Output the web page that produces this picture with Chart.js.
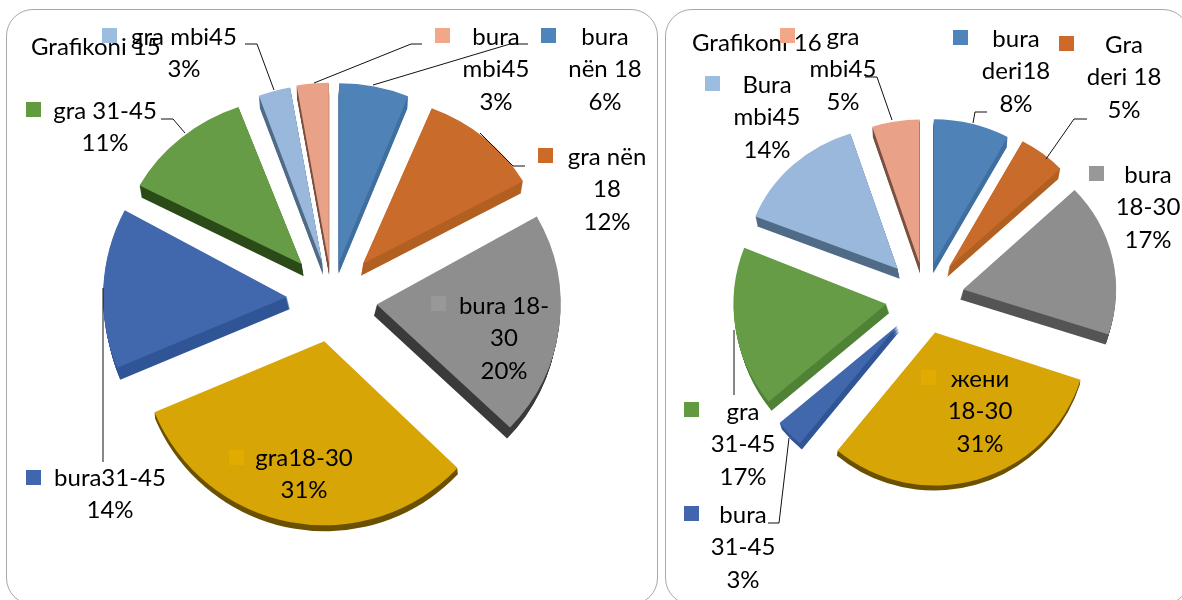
<!DOCTYPE html>
<html>
<head>
<meta charset="utf-8">
<title>Grafikoni 15 / 16</title>
<script src="https://cdn.jsdelivr.net/npm/chart.js@4"></script>
<style>
    html, body { margin: 0; padding: 0; width: 1182px; height: 600px; overflow: hidden; background: #fff; }
    .panel { position: absolute; top: 9px; height: 596px; box-sizing: border-box; border: 1px solid #a8a8a8; border-radius: 27px; }
    canvas { position: absolute; top: 0; }
</style>
</head>
<body>
<div class="panel" style="left:6px; width:652px"></div>
<div class="panel" style="left:665px; width:525px"></div>
<canvas id="chartA" width="664" height="600" style="left:0"></canvas>
<canvas id="chartB" width="520" height="600" style="left:662px"></canvas>
<script>
// Chart data
const titleA = 'Grafikoni 15';
const categoriesA = ['bura\nnën 18', 'gra nën\n18', 'bura 18-\n30', 'gra18-30', 'bura31-45', 'gra 31-45', 'gra mbi45', 'bura\nmbi45'];
const percentA = [6, 12, 20, 31, 14, 11, 3, 3];
// wedge sizes as drawn: the wedges do not follow the printed numbers exactly (gra nën 18 is narrower than 12%)
const wedgeA = [6.1, 10.7, 20.3, 31.6, 14.1, 11.6, 2.8, 2.8];

const titleB = 'Grafikoni 16';
const categoriesB = ['bura\nderi18', 'Gra\nderi 18', 'bura\n18-30', 'жени\n18-30', 'bura\n31-45', 'gra\n31-45', 'Bura\nmbi45', 'gra\nmbi45'];
const percentB = [8, 5, 17, 31, 3, 17, 14, 5];

// Styles
const topColors = ['#4f82b6', '#c96b2b', '#8e8e8e', '#d8a507', '#4168ac', '#669c45', '#99b8dc', '#e9a287'];
const swatchColors = ['#4e84ba', '#ce6a29', '#989898', '#e2ab00', '#4066ae', '#63993f', '#9cbde0', '#f1a78a'];
const sideColorsA = ['#3f6f9f', '#b25f22', '#3a3a3a', '#6b5000', '#2f5596', '#2a4a18', '#4f6b88', '#7a5040'];
const sideColorsB = ['#3f6f9f', '#b25f22', '#545454', '#6b5000', '#2f5596', '#4f8235', '#4f6b88', '#7a5040'];
const FONT = '24px Lato, "Noto Sans", sans-serif';
const LINE_HEIGHT = 32.5;

// Where the text sits on each canvas: text centre x, first line y, swatch x and y
const spotsA = [
    [605, 37, 541, 28], [607, 157, 538, 148], [504, 306, 431, 296], [304, 458, 229, 450],
    [110, 478, 26, 470], [105, 111, 26, 102], [184, 37, 102, 28], [496, 37, 435, 28]
];
const spotsB = [
    [354, 39, 291, 30], [462, 45, 397, 36], [486, 175, 427, 166], [318, 379, 259, 370],
    [81, 515, 22, 506], [81, 412, 22, 402], [105, 85, 43, 76], [181, 37, 118, 28]
];
const leadersA = [
    [[528, 44], [510, 44], [373, 85]],
    [[525, 166], [513, 166], [480, 133]],
    [[103, 462], [103, 288]],
    [[161, 119], [173, 119], [185, 133]],
    [[245, 44], [257, 44], [274, 90]],
    [[422, 44], [411, 44], [314, 83]]
];
const leadersB = [
    [[325, 112], [313, 112], [311, 123]],
    [[425, 119], [412, 119], [384, 159]],
    [[106, 523], [117, 523], [127, 438]],
    [[72, 330], [72, 395]],
    [[203, 77], [215, 77], [230, 120]]
];

// Pull the wedges apart. The arc's own offset option also grows its radius, so move the elements instead.
// squash flattens the far wedges in y, as the picture's perspective does.
const sliceExplode = {
    id: 'sliceExplode',
    afterDatasetsUpdate(chart, args, opts) {
        chart.getDatasetMeta(0).data.forEach((arc, i) => {
            const mid = (arc.startAngle + arc.endAngle) / 2;
            arc.x += Math.cos(mid) * opts.pull[i];
            arc.y += Math.sin(mid) * opts.pull[i];
            arc.squash = opts.squash[i];
            if (arc.draw === Object.getPrototypeOf(arc).draw) {
                const drawArc = arc.draw;
                arc.draw = function(ctx, area) {
                    ctx.save();
                    ctx.translate(this.x, this.y);
                    ctx.scale(1, this.squash);
                    ctx.translate(-this.x, -this.y);
                    drawArc.call(this, ctx, area);
                    ctx.restore();
                };
            }
        });
    }
};

// 3D side of every wedge, painted under the library's own arcs
const sliceDepth = {
    id: 'sliceDepth',
    beforeDatasetsDraw(chart, args, opts) {
        const ctx = chart.ctx;
        chart.getDatasetMeta(0).data.forEach((arc, i) => {
            const mid = (arc.startAngle + arc.endAngle) / 2;
            const depth = opts.depth - opts.drop * Math.max(0, Math.sin(mid));
            const lean = -Math.cos(mid) * opts.lean;
            ctx.fillStyle = opts.colors[i];
            for (let s = 1; s <= depth; s++) {
                ctx.save();
                ctx.translate(arc.x + lean * s / depth, arc.y + s);
                ctx.scale(1, arc.squash);
                ctx.beginPath();
                ctx.moveTo(0, 0);
                ctx.arc(0, 0, arc.outerRadius, arc.startAngle, arc.endAngle);
                ctx.closePath();
                ctx.fill();
                ctx.restore();
            }
        });
    }
};

// Labels, swatches and leader lines
const sliceLabels = {
    id: 'sliceLabels',
    afterDraw(chart, args, opts) {
        const ctx = chart.ctx;
        ctx.save();
        ctx.strokeStyle = '#111';
        ctx.lineWidth = 1;
        opts.leaders.forEach(points => {
            ctx.beginPath();
            points.forEach((p, i) => i ? ctx.lineTo(p[0], p[1]) : ctx.moveTo(p[0], p[1]));
            ctx.stroke();
        });
        ctx.font = FONT;
        ctx.fillStyle = '#000';
        ctx.textBaseline = 'middle';
        ctx.textAlign = 'left';
        ctx.fillText(opts.title, opts.titleX, opts.titleY);
        ctx.textAlign = 'center';
        chart.data.labels.forEach((label, i) => {
            const spot = opts.spots[i];
            ctx.fillStyle = swatchColors[i];
            ctx.fillRect(spot[2], spot[3], 15, 15);
            ctx.fillStyle = '#000';
            label.split('\n').concat(opts.percent[i] + '%').forEach((line, n) => {
                ctx.fillText(line, spot[0], spot[1] + n * LINE_HEIGHT);
            });
        });
        ctx.restore();
    }
};

function makePie(id, labels, values, radius, pull, squash, padding, depthOpts, labelOpts) {
    return new Chart(document.getElementById(id).getContext('2d'), {
        type: 'pie',
        data: {
            labels: labels,
            datasets: [{
                data: values,
                backgroundColor: topColors,
                borderWidth: 0,
                radius: radius
            }]
        },
        options: {
            responsive: false,
            animation: false,
            layout: { padding: padding },
            plugins: {
                legend: { display: false },
                tooltip: { enabled: false },
                sliceExplode: { pull: pull, squash: squash },
                sliceDepth: depthOpts,
                sliceLabels: labelOpts
            }
        },
        plugins: [sliceExplode, sliceDepth, sliceLabels]
    });
}

makePie('chartA', categoriesA, wedgeA, 184,
    [38, 47, 45, 43, 45, 46, 37, 36], [0.97, 0.91, 0.97, 1, 1, 0.91, 0.97, 0.98],
    { bottom: 2 },
    { depth: 12, drop: 6, lean: 3, colors: sideColorsA },
    { title: titleA, titleX: 31, titleY: 47, percent: percentA, spots: spotsA, leaders: leadersA });

makePie('chartB', categoriesB, percentB, 153,
    [36, 39, 39, 36, 39, 39, 40, 35], [0.94, 0.94, 0.95, 1, 1, 1, 0.93, 0.94],
    { left: 6, bottom: 4 },
    { depth: 10, drop: 5, lean: 3, colors: sideColorsB },
    { title: titleB, titleX: 30, titleY: 43, percent: percentB, spots: spotsB, leaders: leadersB });
</script>
</body>
</html>
